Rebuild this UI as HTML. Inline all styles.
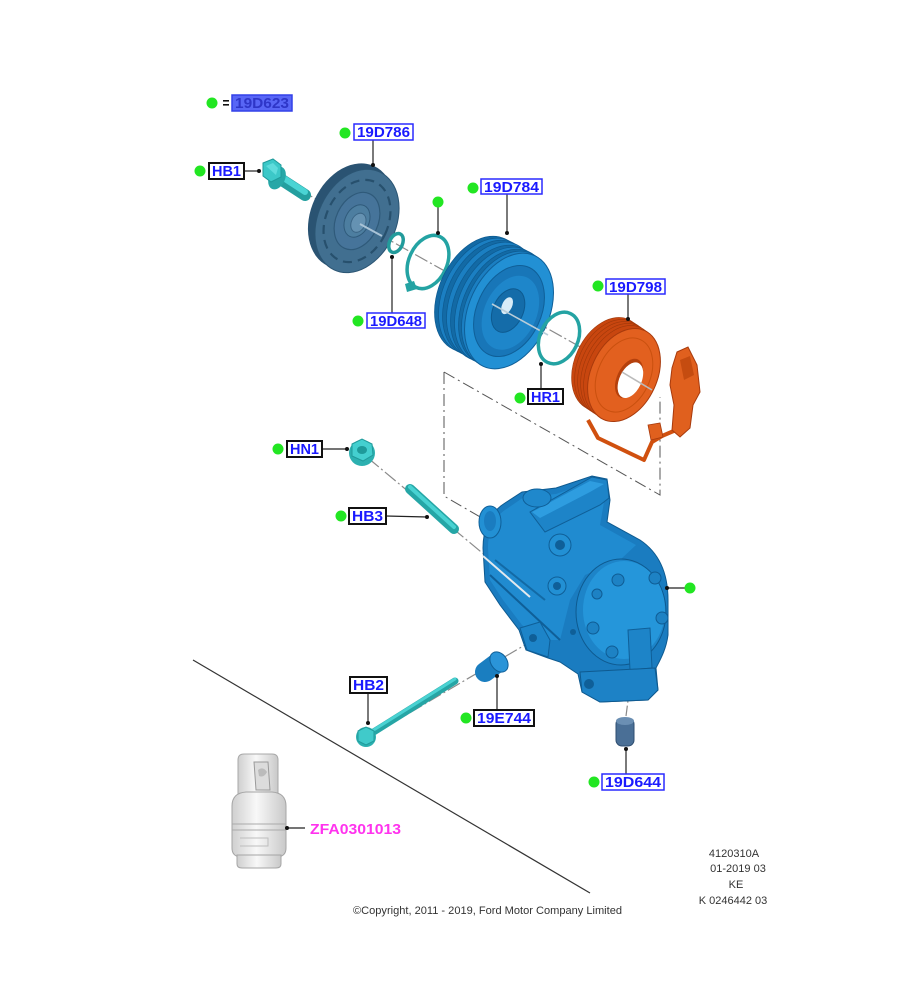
<!DOCTYPE html>
<html><head><meta charset="utf-8">
<style>
html,body{margin:0;padding:0;background:#fff;}
svg{display:block;}
text{font-family:"Liberation Sans",Arial,sans-serif;}
.lb{font-weight:bold;font-size:15px;fill:#1a1aff;}
.bb{fill:#fff;stroke:#2a2aff;stroke-width:1.5;}
.kb{fill:#fff;stroke:#111;stroke-width:2;}
.gd{fill:#22e622;}
.ld{stroke:#222;stroke-width:1.2;fill:none;}
.ax{stroke:#8a8a8a;stroke-width:1.2;fill:none;stroke-dasharray:14 3 2 3;}
.bx{stroke:#555;stroke-width:1;fill:none;stroke-dasharray:12 4 2 4;}
.sm{font-size:11px;fill:#333;}
</style></head><body>
<svg width="905" height="1000" viewBox="0 0 905 1000" xmlns="http://www.w3.org/2000/svg">
<defs>
<linearGradient id="gas" x1="0" x2="1" y1="0" y2="0">
<stop offset="0" stop-color="#cfcfcf"/><stop offset="0.45" stop-color="#f8f8f8"/><stop offset="1" stop-color="#c9c9c9"/>
</linearGradient>
</defs>
<rect width="905" height="1000" fill="#fff"/>

<!-- dash-dot assembly box -->
<path class="bx" d="M444,372 L444,496 L482,518"/>
<path class="bx" d="M444,372 L660,495 L660,397"/>

<!-- axis lines -->
<path class="ax" d="M300,190 L650,386"/>
<path class="ax" d="M368,458 L545,605"/>
<path class="ax" d="M372,735 L530,642"/>
<path class="ax" d="M633,662 L626,716"/>

<!-- big diagonal line -->
<line x1="193" y1="660" x2="590" y2="893" stroke="#333" stroke-width="1.2"/>

<!-- HB1 bolt -->
<line x1="282" y1="180" x2="305" y2="195" stroke="#249f9f" stroke-width="12" stroke-linecap="round"/>
<line x1="282" y1="177" x2="305" y2="192" stroke="#4ad4d4" stroke-width="6" stroke-linecap="round"/>
<g transform="translate(277,178) rotate(25)"><ellipse rx="8" ry="12" fill="#27a7a7"/></g>
<polygon points="263,163 273,159 281,165 281,177 271,182 263,176" fill="#3cc8c8" stroke="#1f9a9a" stroke-width="1"/>
<polygon points="266,166 273,163 278,168 276,175" fill="#5fdcdc"/>

<!-- Clutch plate 19D786 -->
<g transform="translate(351,216) rotate(25)"><ellipse rx="40" ry="55" fill="#2a5372"/></g>
<g transform="translate(357,221) rotate(25)">
<ellipse rx="39" ry="54" fill="#416f90" stroke="#2b5573" stroke-width="1"/>
<ellipse rx="31" ry="43" fill="none" stroke="#27506d" stroke-width="2.2" stroke-dasharray="9 6"/>
<ellipse rx="21" ry="30" fill="#46749a" stroke="#2f5a7a" stroke-width="1.2"/>
<ellipse rx="12" ry="17" fill="#4d7ea0" stroke="#2f5a7a"/>
<ellipse cx="2" cy="1" rx="7" ry="10" fill="#6592b2" stroke="#3b6585"/>
</g>
<line x1="360" y1="224" x2="382" y2="236" stroke="#a9c3d6" stroke-width="2"/>

<!-- small ring 19D648 -->
<g transform="translate(396,243) rotate(25)"><ellipse rx="6.5" ry="10" fill="none" stroke="#229b9b" stroke-width="3.5"/></g>
<!-- large ring -->
<g transform="translate(428,262) rotate(25)"><ellipse rx="19" ry="28" fill="none" stroke="#24a3a3" stroke-width="3.5"/></g>
<path d="M405,284 l9,-3 l3,8 l-10,3 z" fill="#24a3a3"/>

<!-- Pulley 19D784 -->
<g fill="#136aa5" stroke="#0d5a90" stroke-width="0.7">
<g transform="translate(479,294) rotate(25)"><ellipse rx="40" ry="61"/></g>
<g transform="translate(483,296) rotate(25)"><ellipse rx="40" ry="61" fill="#1b7fc2"/></g>
<g transform="translate(487,298) rotate(25)"><ellipse rx="40" ry="61"/></g>
<g transform="translate(491,300) rotate(25)"><ellipse rx="40" ry="61" fill="#1b7fc2"/></g>
<g transform="translate(495,303) rotate(25)"><ellipse rx="40" ry="61"/></g>
<g transform="translate(499,305) rotate(25)"><ellipse rx="40" ry="61" fill="#1b7fc2"/></g>
<g transform="translate(503,307) rotate(25)"><ellipse rx="40" ry="61"/></g>
<g transform="translate(506,309) rotate(25)"><ellipse rx="40" ry="61" fill="#1b7fc2"/></g>
</g>
<g transform="translate(509,311) rotate(25)">
<ellipse rx="40" ry="61" fill="#2290d4" stroke="#0f5f98" stroke-width="1"/>
<ellipse rx="32" ry="48" fill="#1876b8" stroke="#0f5f98"/>
<ellipse cx="2" cy="1" rx="26" ry="39" fill="#1e86ca"/>
<ellipse cx="-1" cy="0" rx="15" ry="23" fill="#146ca9" stroke="#0d5a90"/>
<ellipse cx="-4" cy="-4" rx="5" ry="9" fill="#d8ecf8"/>
</g>
<line x1="492" y1="304" x2="548" y2="335" stroke="#b9cdd9" stroke-width="1.6"/>

<!-- HR1 ring -->
<g transform="translate(559,338) rotate(25)"><ellipse rx="19" ry="27" fill="none" stroke="#24a3a3" stroke-width="3.5"/></g>

<!-- Coil 19D798 -->
<g fill="#c8460f" stroke="#a0380a" stroke-width="0.6">
<g transform="translate(608,364) rotate(25)"><ellipse rx="33" ry="49"/></g>
<g transform="translate(611,366) rotate(25)"><ellipse rx="33" ry="49"/></g>
<g transform="translate(614,368) rotate(25)"><ellipse rx="33" ry="49"/></g>
<g transform="translate(617,370) rotate(25)"><ellipse rx="33" ry="49"/></g>
<g transform="translate(620,372) rotate(25)"><ellipse rx="33" ry="49"/></g>
</g>
<g transform="translate(624,375) rotate(25)">
<ellipse rx="33" ry="49" fill="#e2601f" stroke="#a83a0c" stroke-width="1"/>
<ellipse rx="26" ry="39" fill="none" stroke="#c9500f" stroke-width="1"/>
<ellipse cx="6" cy="1" rx="12" ry="21" fill="#b5400c"/>
<ellipse cx="8" cy="2" rx="11" ry="19" fill="#fff"/>
</g>
<line x1="622" y1="372" x2="652" y2="390" stroke="#bbb" stroke-width="1.6"/>
<!-- coil wire & connector -->
<path d="M588,420 L598,438 L644,460 L652,442 L662,436 L676,430" fill="none" stroke="#d0500f" stroke-width="4" stroke-linejoin="round"/>
<path d="M648,425 l12,-2 l3,14 l-12,3 z" fill="#e0601e" stroke="#a83a0c" stroke-width="0.8"/>
<path d="M677,352 L688,347 L697,365 L700,392 L693,405 L690,428 L680,437 L672,430 L674,405 L670,385 L672,368 Z" fill="#e0601e" stroke="#a83a0c" stroke-width="1"/>
<path d="M680,360 L690,356 L694,375 L684,380 Z" fill="#c54c10"/>

<!-- HN1 nut -->
<circle cx="362" cy="453" r="13" fill="#2cb0b0"/>
<polygon points="352,444 362,439 372,444 373,455 363,461 352,456" fill="#44cfcf" stroke="#1f9a9a" stroke-width="1"/>
<ellipse cx="362" cy="450" rx="5" ry="4" fill="#1e9a9a"/>

<!-- HB3 stud -->
<line x1="410" y1="489" x2="454" y2="529" stroke="#25a6a6" stroke-width="10" stroke-linecap="round"/>
<line x1="410" y1="487" x2="454" y2="527" stroke="#48d2d2" stroke-width="4" stroke-linecap="round"/>

<!-- Compressor -->
<path d="M483,548 C483,530 490,512 505,503 L522,492 L556,488 L592,476 L607,479 L610,500 L607,522 L640,540 C658,552 668,572 668,600 L668,635 C666,650 660,660 656,668 L658,690 L648,700 L600,702 L582,692 L578,674 L560,662 L548,658 L526,650 L519,630 L500,605 L485,582 Z" fill="#1a7cc0" stroke="#0e5a90" stroke-width="1"/>
<path d="M488,548 C488,532 494,516 508,508 L524,497 L556,494 L590,482 L603,485 L604,502 L600,525 L636,545 L620,560 L585,575 L570,600 L560,640 L540,640 L522,625 L503,600 L490,580 Z" fill="#208bd0"/>
<polygon points="530,512 592,477 607,480 609,498 600,505 545,532" fill="#1d84c8" stroke="#0f5f98" stroke-width="1"/>
<polygon points="532,512 590,481 604,484 590,492 540,518" fill="#2e9de0"/>
<ellipse cx="490" cy="522" rx="11" ry="16" fill="#2290d4" stroke="#0f5f98"/>
<ellipse cx="490" cy="521" rx="6" ry="10" fill="#1a7cc0"/>
<ellipse cx="537" cy="498" rx="14" ry="9" fill="#1f88cc" stroke="#0f5f98"/>
<circle cx="560" cy="545" r="11" fill="#2290d4" stroke="#0f5f98"/>
<circle cx="560" cy="545" r="5" fill="#0f5f98"/>
<circle cx="557" cy="586" r="9" fill="#2290d4" stroke="#0f5f98"/>
<circle cx="557" cy="586" r="4" fill="#0f5f98"/>
<path d="M490,575 L560,640" stroke="#0f5f98" stroke-width="2"/>
<path d="M495,560 L545,600" stroke="#136aa5" stroke-width="2"/>
<polygon points="520,628 540,622 550,640 548,657 527,650" fill="#1d84c8" stroke="#0f5f98" stroke-width="1"/>
<circle cx="533" cy="638" r="4" fill="#0f5f98"/>
<ellipse cx="621" cy="612" rx="45" ry="53" fill="#1d84c8" stroke="#0e5a90" stroke-width="1"/>
<ellipse cx="624" cy="610" rx="41" ry="49" fill="#2596da"/>
<g fill="#1d82c4" stroke="#0f5c94" stroke-width="1">
<circle cx="618" cy="580" r="6"/><circle cx="655" cy="578" r="6"/><circle cx="662" cy="618" r="6"/>
<circle cx="593" cy="628" r="6"/><circle cx="612" cy="652" r="6"/><circle cx="597" cy="594" r="5"/>
</g>
<path d="M628,630 L650,628 L652,668 L630,670 Z" fill="#1d84c8" stroke="#0f5f98" stroke-width="1"/>
<path d="M580,672 L655,668 L658,690 L648,700 L600,702 L582,692 Z" fill="#1d82c6" stroke="#0e5a90" stroke-width="1"/>
<circle cx="589" cy="684" r="5" fill="#0f5f98"/>
<circle cx="573" cy="632" r="3" fill="#0f5f98"/>
<line x1="483" y1="556" x2="530" y2="597" stroke="#e3e9ee" stroke-width="2"/>

<!-- HB2 bolt -->
<line x1="372" y1="733" x2="455" y2="681" stroke="#26a5a5" stroke-width="7" stroke-linecap="round"/>
<line x1="372" y1="731" x2="455" y2="679" stroke="#4ad2d2" stroke-width="3" stroke-linecap="round"/>
<circle cx="366" cy="737" r="10" fill="#2cb0b0"/>
<polygon points="358,731 366,727 374,731 374,741 366,745 358,741" fill="#40caca" stroke="#1f9a9a" stroke-width="1"/>

<!-- 19E744 sleeve -->
<line x1="485" y1="672" x2="497" y2="663" stroke="#1a7ec0" stroke-width="20" stroke-linecap="round"/>
<g transform="translate(499,662) rotate(-35)"><ellipse rx="8" ry="11" fill="#2a94d8" stroke="#0f5f98"/></g>

<!-- 19D644 nut -->
<rect x="616" y="718" width="18" height="28" rx="6" fill="#4a6f96" stroke="#2e4e70" stroke-width="1"/>
<ellipse cx="625" cy="721" rx="9" ry="4" fill="#6b8fb3"/>

<!-- Gas cylinder -->
<path d="M238,760 Q238,754 244,754 L272,754 Q278,754 278,760 L278,796 L238,796 Z" fill="url(#gas)" stroke="#a8a8a8" stroke-width="1"/>
<path d="M254,762 L268,762 L270,790 L256,790 Z" fill="#dcdcdc" stroke="#9a9a9a" stroke-width="1"/>
<path d="M258,770 q5,-4 9,2 q-3,6 -8,4 z" fill="#bbb"/>
<path d="M232,806 Q232,793 246,792 L272,792 Q286,793 286,806 L286,848 Q286,856 278,857 L240,857 Q232,856 232,848 Z" fill="url(#gas)" stroke="#a5a5a5" stroke-width="1"/>
<line x1="232" y1="824" x2="286" y2="824" stroke="#aaa"/>
<line x1="232" y1="830" x2="286" y2="830" stroke="#aaa"/>
<path d="M240,838 L268,838 L268,846 L240,846" fill="none" stroke="#bdbdbd"/>
<path d="M237,855 L281,855 L281,864 Q281,868 276,868 L242,868 Q237,868 237,864 Z" fill="url(#gas)" stroke="#a5a5a5" stroke-width="1"/>

<!-- leaders -->
<g class="ld">
<line x1="373" y1="140" x2="373" y2="165"/>
<line x1="244" y1="171" x2="259" y2="171"/>
<line x1="438" y1="207" x2="438" y2="233"/>
<line x1="507" y1="194" x2="507" y2="233"/>
<line x1="392" y1="313" x2="392" y2="257"/>
<line x1="628" y1="294" x2="628" y2="319"/>
<line x1="541" y1="389" x2="541" y2="364"/>
<line x1="322" y1="449" x2="347" y2="449"/>
<line x1="386" y1="516" x2="427" y2="517"/>
<line x1="368" y1="693" x2="368" y2="723"/>
<line x1="497" y1="710" x2="497" y2="676"/>
<line x1="626" y1="774" x2="626" y2="749"/>
<line x1="667" y1="588" x2="685" y2="588"/>
<line x1="287" y1="828" x2="305" y2="828"/>
</g>
<g fill="#111">
<circle cx="373" cy="165" r="2"/><circle cx="259" cy="171" r="2"/><circle cx="438" cy="233" r="2"/>
<circle cx="507" cy="233" r="2"/><circle cx="392" cy="257" r="2"/><circle cx="628" cy="319" r="2"/>
<circle cx="541" cy="364" r="2"/><circle cx="347" cy="449" r="2"/><circle cx="427" cy="517" r="2"/>
<circle cx="368" cy="723" r="2"/><circle cx="497" cy="676" r="2"/><circle cx="626" cy="749" r="2"/>
<circle cx="667" cy="588" r="2"/><circle cx="287" cy="828" r="2"/>
</g>

<!-- green dots -->
<g class="gd">
<circle cx="212" cy="103" r="5.5"/><circle cx="345" cy="133" r="5.5"/><circle cx="200" cy="171" r="5.5"/>
<circle cx="438" cy="202" r="5.5"/><circle cx="473" cy="188" r="5.5"/><circle cx="358" cy="321" r="5.5"/>
<circle cx="598" cy="286" r="5.5"/><circle cx="520" cy="398" r="5.5"/><circle cx="278" cy="449" r="5.5"/>
<circle cx="341" cy="516" r="5.5"/><circle cx="466" cy="718" r="5.5"/><circle cx="594" cy="782" r="5.5"/>
<circle cx="690" cy="588" r="5.5"/>
</g>

<!-- labels -->
<rect x="223" y="100" width="6" height="1.6" fill="#111"/><rect x="223" y="104" width="6" height="1.6" fill="#111"/>
<rect x="232" y="95" width="60" height="16" fill="#5866f6" stroke="#3240e8" stroke-width="1.5"/>
<text x="235" y="108" class="lb" style="fill:#2e36c8" textLength="54" lengthAdjust="spacingAndGlyphs">19D623</text>

<rect x="354" y="124" width="59" height="16" class="bb"/>
<text x="357" y="137" class="lb" textLength="53" lengthAdjust="spacingAndGlyphs">19D786</text>

<rect x="209" y="163" width="35" height="16" class="kb"/>
<text x="212" y="176" class="lb" textLength="29" lengthAdjust="spacingAndGlyphs">HB1</text>

<rect x="481" y="179" width="61" height="15" class="bb"/>
<text x="484" y="192" class="lb" textLength="55" lengthAdjust="spacingAndGlyphs">19D784</text>

<rect x="367" y="313" width="58" height="15" class="bb"/>
<text x="370" y="326" class="lb" textLength="52" lengthAdjust="spacingAndGlyphs">19D648</text>

<rect x="606" y="279" width="59" height="15" class="bb"/>
<text x="609" y="292" class="lb" textLength="53" lengthAdjust="spacingAndGlyphs">19D798</text>

<rect x="528" y="389" width="35" height="15" class="kb"/>
<text x="531" y="402" class="lb" textLength="29" lengthAdjust="spacingAndGlyphs">HR1</text>

<rect x="287" y="441" width="35" height="16" class="kb"/>
<text x="290" y="454" class="lb" textLength="29" lengthAdjust="spacingAndGlyphs">HN1</text>

<rect x="349" y="508" width="37" height="16" class="kb"/>
<text x="352" y="521" class="lb" textLength="31" lengthAdjust="spacingAndGlyphs">HB3</text>

<rect x="350" y="677" width="37" height="16" class="kb"/>
<text x="353" y="690" class="lb" textLength="31" lengthAdjust="spacingAndGlyphs">HB2</text>

<rect x="474" y="710" width="60" height="16" class="kb"/>
<text x="477" y="723" class="lb" textLength="54" lengthAdjust="spacingAndGlyphs">19E744</text>

<rect x="602" y="774" width="62" height="16" class="bb"/>
<text x="605" y="787" class="lb" textLength="56" lengthAdjust="spacingAndGlyphs">19D644</text>

<text x="310" y="834" style="font-weight:bold;font-size:15px;fill:#ff33ee" textLength="91" lengthAdjust="spacingAndGlyphs">ZFA0301013</text>

<!-- footer texts -->
<text x="353" y="914" class="sm" textLength="269" lengthAdjust="spacingAndGlyphs">©Copyright, 2011 - 2019, Ford Motor Company Limited</text>
<text x="734" y="857" class="sm" text-anchor="middle">4120310A</text>
<text x="738" y="872" class="sm" text-anchor="middle">01-2019 03</text>
<text x="736" y="888" class="sm" text-anchor="middle">KE</text>
<text x="733" y="904" class="sm" text-anchor="middle">K 0246442 03</text>
</svg>
</body></html>
